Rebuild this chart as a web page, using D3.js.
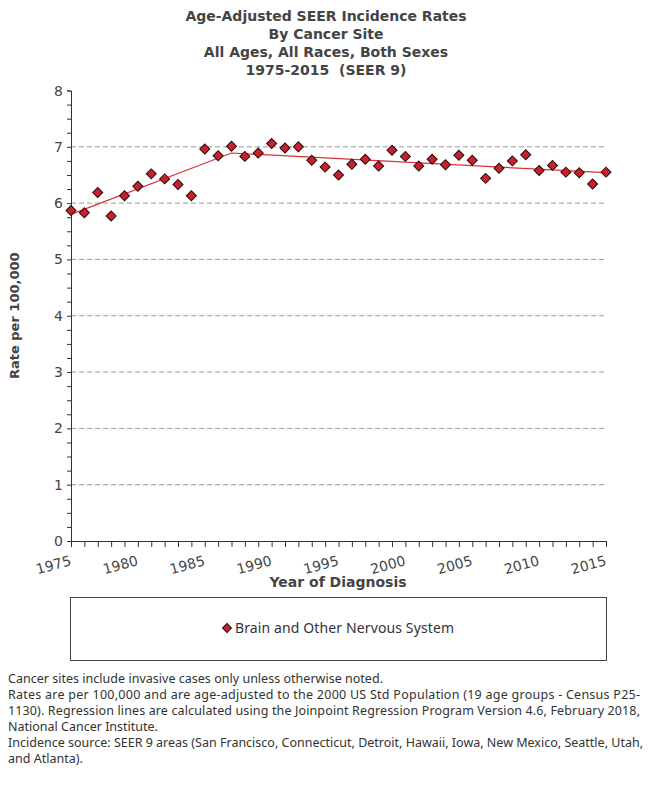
<!DOCTYPE html>
<html>
<head>
<meta charset="utf-8">
<script src="https://cdn.jsdelivr.net/npm/d3@7"></script>
<style>
  body { margin: 0; background: #fff; }
  svg { font-family: "DejaVu Sans", sans-serif; }
</style>
</head>
<body>
<svg id="chart" width="650" height="802"></svg>
<script>
// ---- data ----
const titleLines = ["Age-Adjusted SEER Incidence Rates", "By Cancer Site", "All Ages, All Races, Both Sexes", "1975-2015  (SEER 9)"];
const years = d3.range(1975, 2016);
const rates = [5.87, 5.83, 6.19, 5.77, 6.13, 6.30, 6.52, 6.43, 6.33, 6.13,
               6.96, 6.84, 7.01, 6.83, 6.89, 7.06, 6.98, 7.00, 6.76, 6.64,
               6.50, 6.69, 6.78, 6.66, 6.94, 6.83, 6.66, 6.78, 6.68, 6.85,
               6.76, 6.44, 6.62, 6.75, 6.86, 6.58, 6.67, 6.55, 6.54, 6.34, 6.55];
const fitYears = [1975, 1987, 2015];
const fitRates = [5.80, 6.89, 6.54];
const yTicks = [0, 1, 2, 3, 4, 5, 6, 7, 8];
const xLabelYears = [1975, 1980, 1985, 1990, 1995, 2000, 2005, 2010, 2015];
const seriesName = "Brain and Other Nervous System";
const footLines = [
  "Cancer sites include invasive cases only unless otherwise noted.",
  "Rates are per 100,000 and are age-adjusted to the 2000 US Std Population (19 age groups - Census P25-",
  "1130). Regression lines are calculated using the Joinpoint Regression Program Version 4.6, February 2018,",
  "National Cancer Institute.",
  "Incidence source: SEER 9 areas (San Francisco, Connecticut, Detroit, Hawaii, Iowa, New Mexico, Seattle, Utah,",
  "and Atlanta)."
];
const footWidths = [375, 632, 632, null, 635, null];

// ---- layout ----
const svg = d3.select("#chart");
const L = 71, R = 606, T = 90.5, B = 541;
const x = d3.scaleLinear().domain([1975, 2015]).range([L, R]);
const y = d3.scaleLinear().domain([0, 8]).range([B, T]);
const textCol = "#444";

// title
svg.append("g").selectAll("text").data(titleLines).join("text")
  .attr("x", 326).attr("y", (d, i) => 21 + i * 18)
  .attr("text-anchor", "middle").attr("font-size", 14).attr("font-weight", "bold")
  .attr("fill", textCol).style("white-space", "pre").text(d => d);

// grid
svg.append("g").selectAll("line").data(yTicks.filter(v => v > 0 && v < 8)).join("line")
  .attr("x1", L).attr("x2", R).attr("y1", d => y(d)).attr("y2", d => y(d))
  .attr("stroke", "#999").attr("stroke-width", 1).attr("stroke-dasharray", "5,3");

// y axis with minor ticks
const yMinor = d3.range(0, 8.001, 0.25);
const yAxisG = svg.append("g").attr("transform", `translate(${L},0)`)
  .call(d3.axisLeft(y).tickValues(yMinor).tickSize(4).tickFormat(""));
yAxisG.select(".domain").attr("stroke", "#333");
yAxisG.selectAll(".tick line").attr("stroke", "#333");
svg.append("g").selectAll("text").data(yTicks).join("text")
  .attr("x", L - 8).attr("y", d => y(d) + 5).attr("text-anchor", "end")
  .attr("font-size", 14).attr("fill", textCol).text(d => d);

// x axis
const xAxisG = svg.append("g").attr("transform", `translate(0,${B})`)
  .call(d3.axisBottom(x).tickValues(years).tickSize(6).tickSizeOuter(0).tickFormat(""));
xAxisG.select(".domain").attr("stroke", "#333");
xAxisG.selectAll(".tick line").attr("stroke", "#333");
svg.append("g").selectAll("text").data(xLabelYears).join("text")
  .attr("transform", d => `translate(${x(d) + 1},${B + 24}) rotate(-15)`)
  .attr("text-anchor", "end").attr("font-size", 14).attr("fill", textCol).text(d => d);

// axis titles
svg.append("text").attr("x", 338).attr("y", 587).attr("text-anchor", "middle")
  .attr("font-size", 14).attr("font-weight", "bold").attr("fill", textCol).text("Year of Diagnosis");
svg.append("text").attr("transform", `translate(19,${(T + B) / 2}) rotate(-90)`)
  .attr("text-anchor", "middle").attr("font-size", 13).attr("font-weight", "bold")
  .attr("fill", textCol).text("Rate per 100,000");

// regression line
const line = d3.line().x((d, i) => x(fitYears[i])).y(d => y(d));
svg.append("path").datum(fitRates).attr("d", line)
  .attr("fill", "none").attr("stroke", "#d9303a").attr("stroke-width", 1.2);

// markers
const diamond = d3.symbol(d3.symbolSquare, 50);
svg.append("g").selectAll("path").data(rates).join("path")
  .attr("d", diamond)
  .attr("transform", (d, i) => `translate(${x(years[i])},${y(d)}) rotate(45)`)
  .attr("fill", "#c8202e").attr("stroke", "#2a0a0a").attr("stroke-width", 1);

// legend
svg.append("rect").attr("x", 70.5).attr("y", 597.5).attr("width", 536).attr("height", 63)
  .attr("fill", "#fff").attr("stroke", "#444").attr("stroke-width", 1);
const lg = svg.append("g");
lg.append("path").attr("d", d3.symbol(d3.symbolSquare, 40))
  .attr("transform", "translate(227,628) rotate(45)")
  .attr("fill", "#c8202e").attr("stroke", "#2a0a0a").attr("stroke-width", 1);
lg.append("text").attr("x", 235).attr("y", 633).attr("font-size", 14)
  .attr("font-family", "'Noto Sans', sans-serif")
  .attr("textLength", 219).attr("lengthAdjust", "spacing")
  .attr("fill", "#333").text(seriesName);

// footnotes
const ft = svg.append("g").selectAll("text").data(footLines).join("text")
  .attr("x", 8).attr("y", (d, i) => 683 + i * 16)
  .attr("font-family", "'Noto Sans', sans-serif")
  .attr("font-size", 12.5).attr("fill", "#333").text(d => d);
ft.filter((d, i) => footWidths[i] !== null)
  .attr("textLength", (d) => footWidths[footLines.indexOf(d)]).attr("lengthAdjust", "spacing");
</script>
</body>
</html>
